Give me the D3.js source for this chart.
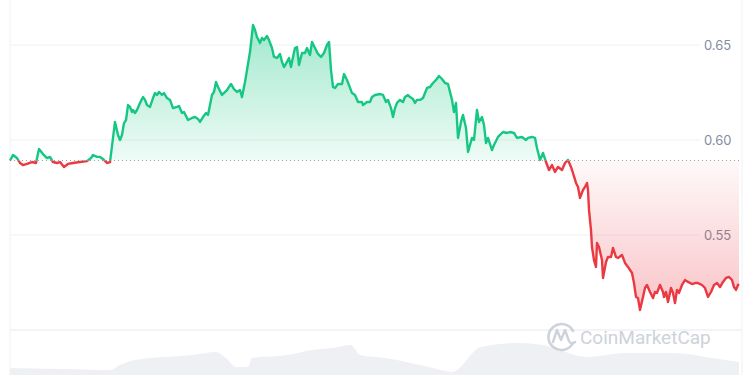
<!DOCTYPE html>
<html>
<head>
<meta charset="utf-8">
<script src="https://cdn.jsdelivr.net/npm/d3@7"></script>
<style>
  body { margin: 0; background: #fff; }
  svg { display: block; font-family: Inter, "Noto Sans", sans-serif; }
</style>
</head>
<body>
<div id="chart"></div>
<script>
const WIDTH = 750, HEIGHT = 375;

// price series: minutes since open, price in USD
const minutes = [
  0, 6, 14, 20, 26, 34, 44, 52, 58, 66,
  74, 80, 86, 94, 100, 108, 116, 126, 140, 154,
  162, 166, 174, 180, 186, 194, 200, 210, 216, 220,
  224, 228, 232, 236, 240, 244, 246, 250, 254, 260,
  266, 270, 274, 280, 286, 290, 294, 298, 304, 308,
  314, 320, 326, 334, 338, 344, 348, 352, 356, 364,
  370, 376, 380, 386, 392, 396, 404, 408, 412, 416,
  424, 434, 442, 448, 454, 460, 464, 470, 474, 480,
  486, 490, 494, 500, 504, 508, 514, 518, 524, 528,
  534, 540, 544, 548, 554, 558, 562, 566, 570, 574,
  578, 584, 590, 594, 600, 604, 610, 616, 622, 628,
  634, 638, 642, 646, 650, 656, 664, 668, 674, 678,
  684, 690, 696, 704, 706, 714, 720, 724, 730, 740,
  746, 752, 756, 762, 766, 770, 774, 780, 786, 790,
  796, 800, 806, 810, 814, 820, 826, 834, 840, 846,
  852, 858, 864, 870, 876, 884, 888, 892, 896, 902,
  906, 912, 916, 924, 928, 934, 938, 944, 948, 952,
  956, 964, 968, 976, 986, 994, 1000, 1008, 1014, 1024,
  1032, 1036, 1044, 1050, 1054, 1060, 1066, 1072, 1078, 1084,
  1090, 1096, 1104, 1110, 1116, 1122, 1126, 1132, 1136, 1140,
  1146, 1150, 1154, 1156, 1158, 1162, 1164, 1168, 1172, 1174,
  1178, 1184, 1186, 1192, 1196, 1202, 1206, 1212, 1216, 1224,
  1230, 1236, 1244, 1248, 1252, 1256, 1260, 1266, 1270, 1274,
  1280, 1286, 1290, 1294, 1300, 1306, 1308, 1312, 1316, 1322,
  1326, 1330, 1334, 1338, 1344, 1350, 1356, 1364, 1370, 1376,
  1384, 1390, 1396, 1402, 1408, 1414, 1420, 1426, 1432, 1438,
  1444, 1448, 1452, 1456, 1458
];
const prices = [
  0.5892, 0.5921, 0.5905, 0.5879, 0.5868, 0.5874, 0.5884, 0.5879, 0.5953, 0.5926,
  0.5905, 0.5911, 0.5884, 0.5879, 0.5884, 0.5858, 0.5874, 0.5879, 0.5884, 0.5889,
  0.5905, 0.5921, 0.5911, 0.5911, 0.5900, 0.5879, 0.5884, 0.6095, 0.6026, 0.6000,
  0.6026, 0.6089, 0.6105, 0.6184, 0.6174, 0.6147, 0.6158, 0.6142, 0.6158, 0.6195,
  0.6226, 0.6211, 0.6184, 0.6174, 0.6221, 0.6247, 0.6237, 0.6253, 0.6237, 0.6247,
  0.6221, 0.6211, 0.6168, 0.6174, 0.6179, 0.6142, 0.6147, 0.6126, 0.6105, 0.6116,
  0.6121, 0.6111, 0.6095, 0.6121, 0.6142, 0.6132, 0.6237, 0.6253, 0.6305, 0.6279,
  0.6237, 0.6263, 0.6295, 0.6268, 0.6253, 0.6263, 0.6226, 0.6305, 0.6368, 0.6463,
  0.6605, 0.6579, 0.6542, 0.6511, 0.6537, 0.6526, 0.6547, 0.6526, 0.6484, 0.6437,
  0.6432, 0.6453, 0.6411, 0.6384, 0.6411, 0.6432, 0.6384, 0.6437, 0.6484, 0.6489,
  0.6395, 0.6458, 0.6458, 0.6484, 0.6447, 0.6516, 0.6484, 0.6453, 0.6437, 0.6458,
  0.6500, 0.6516, 0.6368, 0.6279, 0.6274, 0.6295, 0.6295, 0.6347, 0.6316, 0.6289,
  0.6247, 0.6237, 0.6200, 0.6200, 0.6184, 0.6200, 0.6200, 0.6226, 0.6237, 0.6242,
  0.6237, 0.6200, 0.6211, 0.6168, 0.6121, 0.6168, 0.6195, 0.6211, 0.6200, 0.6226,
  0.6237, 0.6226, 0.6216, 0.6195, 0.6211, 0.6211, 0.6221, 0.6274, 0.6279, 0.6300,
  0.6316, 0.6337, 0.6321, 0.6300, 0.6295, 0.6211, 0.6147, 0.6195, 0.6011, 0.6095,
  0.6132, 0.6063, 0.5937, 0.6011, 0.6000, 0.6158, 0.6095, 0.6121, 0.6079, 0.5984,
  0.6011, 0.5947, 0.5974, 0.6016, 0.6042, 0.6037, 0.6042, 0.6037, 0.6011, 0.6016,
  0.6000, 0.6011, 0.6016, 0.6011, 0.5958, 0.5895, 0.5932, 0.5884, 0.5842, 0.5868,
  0.5832, 0.5858, 0.5842, 0.5879, 0.5895, 0.5858, 0.5826, 0.5774, 0.5753, 0.5695,
  0.5737, 0.5753, 0.5774, 0.5737, 0.5632, 0.5526, 0.5437, 0.5368, 0.5332, 0.5458,
  0.5437, 0.5368, 0.5274, 0.5358, 0.5384, 0.5384, 0.5432, 0.5384, 0.5379, 0.5395,
  0.5353, 0.5332, 0.5300, 0.5247, 0.5174, 0.5168, 0.5105, 0.5174, 0.5221, 0.5237,
  0.5200, 0.5168, 0.5200, 0.5195, 0.5237, 0.5200, 0.5174, 0.5200, 0.5147, 0.5221,
  0.5195, 0.5142, 0.5211, 0.5195, 0.5237, 0.5263, 0.5253, 0.5242, 0.5247, 0.5247,
  0.5237, 0.5221, 0.5174, 0.5200, 0.5237, 0.5247, 0.5226, 0.5253, 0.5274, 0.5279,
  0.5263, 0.5226, 0.5211, 0.5237, 0.5242
];

// volume strip (arbitrary units)
const volMinutes = [0, 100, 200, 220, 250, 364, 412, 432, 452, 476, 484, 556, 604, 644,
  682, 700, 750, 846, 884, 942, 1018, 1066, 1154, 1230, 1326, 1404, 1458];
const volumes = [27, 26, 25, 30, 35, 40, 43, 37, 28, 28, 37, 40, 45, 47,
  50, 40, 37, 27, 23, 48, 52, 50, 38, 42, 42, 37, 33];

const yTicks = [0.55, 0.60, 0.65];
const openPrice = prices[0];

const UP = "#16c784", DOWN = "#ea3943";

const svg = d3.select("#chart").append("svg")
  .attr("width", WIDTH)
  .attr("height", HEIGHT);

const x = d3.scaleLinear().domain([0, 1458]).range([10, 739]);
const y = d3.scaleLinear().domain([0.50, 0.65]).range([330, 45]);
const yVol = d3.scaleLinear().domain([0, 60]).range([395, 335]);

const pts = minutes.map((m, i) => ({t: m, p: prices[i]}));
const baseY = y(openPrice);

const defs = svg.append("defs");
const gUp = defs.append("linearGradient").attr("id", "gUp")
  .attr("gradientUnits", "userSpaceOnUse")
  .attr("x1", 0).attr("x2", 0).attr("y1", y(0.66)).attr("y2", baseY);
gUp.append("stop").attr("offset", 0).attr("stop-color", UP).attr("stop-opacity", 0.4);
gUp.append("stop").attr("offset", 1).attr("stop-color", UP).attr("stop-opacity", 0.07);
const gDown = defs.append("linearGradient").attr("id", "gDown")
  .attr("gradientUnits", "userSpaceOnUse")
  .attr("x1", 0).attr("x2", 0).attr("y1", baseY).attr("y2", y(0.51));
gDown.append("stop").attr("offset", 0).attr("stop-color", DOWN).attr("stop-opacity", 0.03);
gDown.append("stop").attr("offset", 1).attr("stop-color", DOWN).attr("stop-opacity", 0.3);

defs.append("clipPath").attr("id", "above").append("rect")
  .attr("x", 0).attr("y", 0).attr("width", WIDTH).attr("height", baseY);
defs.append("clipPath").attr("id", "below").append("rect")
  .attr("x", 0).attr("y", baseY).attr("width", WIDTH).attr("height", HEIGHT - baseY);

// volume
svg.append("path")
  .datum(volMinutes.map((m, i) => ({t: m, v: volumes[i]})))
  .attr("fill", "#eef0f3")
  .attr("d", d3.area().curve(d3.curveMonotoneX)
    .x(d => x(d.t)).y0(HEIGHT).y1(d => yVol(d.v)));

// grid
svg.append("g").selectAll("line").data(yTicks).join("line")
  .attr("x1", 10).attr("x2", 700)
  .attr("y1", d => y(d)).attr("y2", d => y(d))
  .attr("stroke", "#eff1f4");
svg.append("line")
  .attr("x1", 10).attr("x2", 742).attr("y1", y(0.50)).attr("y2", y(0.50))
  .attr("stroke", "#e6e8ec");
[10, 742].forEach(v => svg.append("line")
  .attr("x1", v).attr("x2", v).attr("y1", 0).attr("y2", HEIGHT)
  .attr("stroke", "#eff1f4"));

// axis labels
const axis = svg.append("g")
  .attr("transform", "translate(704,0)")
  .call(d3.axisRight(y).tickValues(yTicks).tickFormat(d3.format(".2f")).tickSize(0).tickPadding(0));
axis.select(".domain").remove();
axis.selectAll("text")
  .attr("fill", "#858ca2")
  .attr("font-size", 13)
  .attr("font-family", "Inter, sans-serif");

// areas
const area = d3.area().x(d => x(d.t)).y0(baseY).y1(d => y(d.p));
svg.append("path").datum(pts).attr("clip-path", "url(#above)")
  .attr("fill", "url(#gUp)").attr("d", area);
svg.append("path").datum(pts).attr("clip-path", "url(#below)")
  .attr("fill", "url(#gDown)").attr("d", area);

// open price baseline
svg.append("line")
  .attr("x1", 10).attr("x2", 742).attr("y1", baseY).attr("y2", baseY)
  .attr("stroke", "#9aa1ad").attr("stroke-dasharray", "1,3");

// price line
const line = d3.line().x(d => x(d.t)).y(d => y(d.p));
svg.append("path").datum(pts).attr("clip-path", "url(#above)")
  .attr("fill", "none").attr("stroke", UP).attr("stroke-width", 2.4)
  .attr("stroke-linejoin", "round").attr("d", line);
svg.append("path").datum(pts).attr("clip-path", "url(#below)")
  .attr("fill", "none").attr("stroke", DOWN).attr("stroke-width", 2.4)
  .attr("stroke-linejoin", "round").attr("d", line);

// watermark
const wm = svg.append("g").attr("opacity", 0.9);
wm.append("path")
  .attr("d", "M573,343 A13,13 0 1 1 573,331")
  .attr("fill", "none").attr("stroke", "#c9ced6").attr("stroke-width", 2.6)
  .attr("stroke-linecap", "round");
wm.append("path")
  .attr("d", "M553,342 L557,330 L561,340 L565,330 L569,341 Q571,345 575,342")
  .attr("fill", "none").attr("stroke", "#c9ced6").attr("stroke-width", 2.4)
  .attr("stroke-linejoin", "round").attr("stroke-linecap", "round");
wm.append("text")
  .attr("x", 580).attr("y", 344)
  .attr("fill", "#c9ced6")
  .attr("font-size", 19)
  .attr("font-family", "Roboto, sans-serif")
  .text("CoinMarketCap");
</script>
</body>
</html>
